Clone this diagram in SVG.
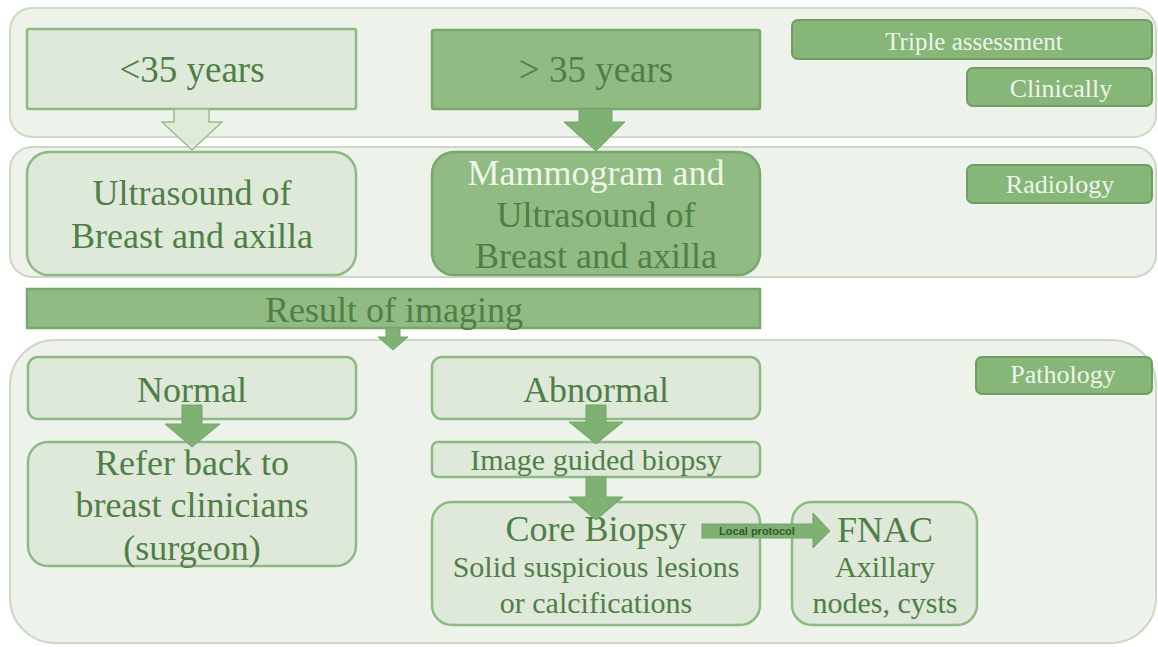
<svg xmlns="http://www.w3.org/2000/svg" width="1158" height="647" viewBox="0 0 1158 647">
<defs>
<style>
.panel{fill:#edf3ea;stroke:#cdd8c9;stroke-width:2}
.lt{fill:#dee9d9;stroke:#8dba82;stroke-width:2.5}
.dk{fill:#90bb82;stroke:#78a86b;stroke-width:2.5}
.lab{fill:#86b678;stroke:#6e9f61;stroke-width:2}
.t{font-family:"Liberation Serif","DejaVu Serif",serif;fill:#4f7f46;text-anchor:middle}
.w{fill:#eef5ea}
.arr{fill:#7fb172;stroke:#73a566;stroke-width:1}
.arrl{fill:#dfead9;stroke:#98c08e;stroke-width:1.5}
</style>
</defs>
<rect width="1158" height="647" fill="#ffffff"/>

<g id="panels">
<rect class="panel" x="10" y="8" width="1146" height="129" rx="22"/>
<rect class="panel" x="10" y="147" width="1146" height="130" rx="22"/>
<rect class="panel" x="10" y="340" width="1146" height="303" rx="45"/>
</g>

<g id="lbl-triple"><rect class="lab" x="792" y="20" width="360" height="39" rx="6"/><text class="t w" x="974" y="50" font-size="25">Triple assessment</text></g>
<g id="lbl-clin"><rect class="lab" x="967" y="68" width="185" height="38" rx="6"/><text class="t w" x="1061" y="97" font-size="26">Clinically</text></g>
<g id="lbl-rad"><rect class="lab" x="967" y="165" width="185" height="38" rx="6"/><text class="t w" x="1060" y="193" font-size="26">Radiology</text></g>
<g id="lbl-path"><rect class="lab" x="976" y="357" width="176" height="37" rx="6"/><text class="t w" x="1063" y="383" font-size="26">Pathology</text></g>

<g id="n-under35"><rect class="lt" x="27" y="29" width="329" height="80" rx="2"/><text class="t" x="192" y="82" font-size="37">&lt;35 years</text></g>
<g id="n-over35"><rect class="dk" x="432" y="30" width="328" height="79" rx="2"/><text class="t" x="596" y="82" font-size="37">&gt; 35 years</text></g>

<g id="n-us"><rect class="lt" x="27" y="152" width="329" height="123" rx="22"/>
<text class="t" x="192" y="205" font-size="36">Ultrasound of</text>
<text class="t" x="192" y="248" font-size="36">Breast and axilla</text></g>
<g id="n-mammo"><rect class="dk" x="432" y="152" width="328" height="123" rx="22"/>
<text class="t w" x="596" y="185" font-size="36">Mammogram and</text>
<text class="t" x="596" y="227" font-size="36">Ultrasound of</text>
<text class="t" x="596" y="268" font-size="36">Breast and axilla</text></g>

<g id="n-result"><rect class="dk" x="27" y="289" width="733" height="39"/><text class="t" x="394" y="322" font-size="36">Result of imaging</text></g>

<g id="n-normal"><rect class="lt" x="28" y="357" width="328" height="62" rx="10"/><text class="t" x="192" y="402" font-size="36">Normal</text></g>
<g id="n-refer"><rect class="lt" x="28" y="442" width="328" height="124" rx="20"/>
<text class="t" x="192" y="475" font-size="36">Refer back to</text>
<text class="t" x="192" y="517" font-size="36">breast clinicians</text>
<text class="t" x="192" y="560" font-size="36">(surgeon)</text></g>

<g id="n-abnormal"><rect class="lt" x="432" y="357" width="328" height="62" rx="10"/><text class="t" x="596" y="402" font-size="36">Abnormal</text></g>
<g id="n-igb"><rect class="lt" x="432" y="442" width="328" height="35" rx="6"/><text class="t" x="596" y="470" font-size="30">Image guided biopsy</text></g>
<g id="n-core"><rect class="lt" x="432" y="502" width="328" height="123" rx="20"/>
<text class="t" x="596" y="541" font-size="36">Core Biopsy</text>
<text class="t" x="596" y="577" font-size="30">Solid suspicious lesions</text>
<text class="t" x="596" y="613" font-size="30">or calcifications</text></g>
<g id="n-fnac"><rect class="lt" x="792" y="502" width="185" height="123" rx="20"/>
<text class="t" x="885" y="542" font-size="36">FNAC</text>
<text class="t" x="885" y="577" font-size="30">Axillary</text>
<text class="t" x="885" y="613" font-size="30">nodes, cysts</text></g>

<g id="connectors">
<polygon class="arrl" points="174,109 209,109 209,122 222,122 192,150 162,122 174,122"/>
<polygon class="arr" points="579,109 612,109 612,122 625,122 596,151 564,122 579,122"/>
<polygon class="arr" points="386,328 400,328 400,337 408,337 393,350 378,337 386,337"/>
<polygon class="arr" points="182,405 202,405 202,424 220,424 192,447 165,424 182,424"/>
<polygon class="arr" points="586,405 606,405 606,422 623,422 596,444 569,422 586,422"/>
<polygon class="arr" points="586,477 606,477 606,497 623,497 596,520 569,497 586,497"/>
<polygon class="arr" points="702,524 813,524 813,513 830,531 813,548 813,538 702,538"/>
<text x="757" y="535" font-size="11" font-weight="bold" font-family="Liberation Sans,Arial,sans-serif" fill="#2f5a29" text-anchor="middle">Local protocol</text>
</g>
</svg>
